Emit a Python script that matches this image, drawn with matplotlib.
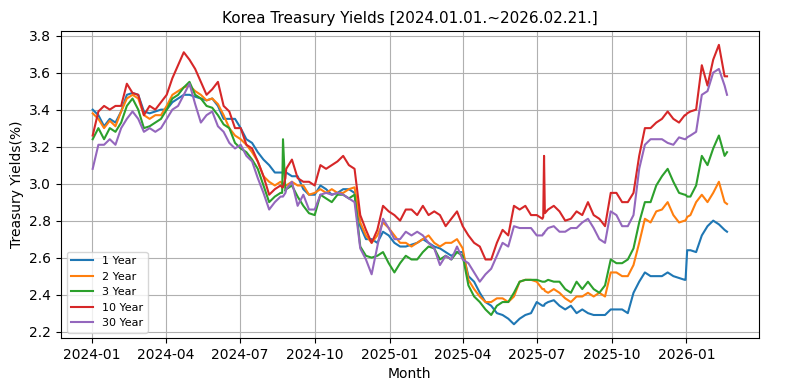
import matplotlib
matplotlib.use("Agg")
import matplotlib.pyplot as plt
import matplotlib.dates as mdates
import pandas as pd
import numpy as np

# Weekly observations (every 7 days starting 2024-01-02)
week_start = "2024-01-02"
n_weeks = 112

y1 = [3.40, 3.37, 3.31, 3.35, 3.33, 3.39, 3.48, 3.49, 3.48, 3.39, 3.38, 3.39, 3.40, 3.40, 3.44, 3.46,
      3.48, 3.48, 3.47, 3.46, 3.45, 3.46, 3.42, 3.35, 3.35, 3.35, 3.30, 3.24, 3.22, 3.17, 3.13, 3.10,
      3.06, 3.06, 3.06, 3.04, 3.04, 2.97, 2.94, 2.94, 2.99, 2.97, 2.94, 2.95, 2.97, 2.97, 2.95, 2.77,
      2.70, 2.70, 2.68, 2.74, 2.72, 2.68, 2.66, 2.66, 2.67, 2.68, 2.70, 2.68, 2.66, 2.65, 2.63, 2.61,
      2.63, 2.63, 2.50, 2.47, 2.41, 2.36, 2.34, 2.30, 2.29, 2.27, 2.24, 2.27, 2.29, 2.30, 2.36, 2.34,
      2.36, 2.37, 2.34, 2.32, 2.34, 2.30, 2.32, 2.30, 2.29, 2.29, 2.29, 2.32, 2.32, 2.32, 2.30, 2.41,
      2.47, 2.52, 2.50, 2.50, 2.50, 2.52, 2.50, 2.49, 2.48, 2.64, 2.63, 2.72, 2.77, 2.80, 2.78, 2.75]
y2 = [3.38, 3.35, 3.30, 3.34, 3.31, 3.39, 3.46, 3.48, 3.46, 3.37, 3.35, 3.37, 3.37, 3.42, 3.48, 3.50,
      3.52, 3.53, 3.50, 3.48, 3.45, 3.46, 3.43, 3.37, 3.30, 3.26, 3.24, 3.21, 3.17, 3.12, 3.04, 3.01,
      2.99, 3.01, 2.99, 3.01, 2.99, 2.99, 2.94, 2.95, 2.97, 2.95, 2.97, 2.95, 2.95, 2.97, 2.98, 2.79,
      2.72, 2.68, 2.72, 2.79, 2.76, 2.72, 2.68, 2.68, 2.66, 2.68, 2.70, 2.72, 2.68, 2.66, 2.68, 2.68,
      2.70, 2.65, 2.48, 2.43, 2.39, 2.36, 2.36, 2.38, 2.38, 2.36, 2.39, 2.47, 2.48, 2.48, 2.47, 2.43,
      2.41, 2.43, 2.41, 2.38, 2.36, 2.39, 2.39, 2.41, 2.39, 2.41, 2.39, 2.52, 2.52, 2.50, 2.50, 2.56,
      2.68, 2.81, 2.79, 2.85, 2.86, 2.90, 2.83, 2.79, 2.80, 2.83, 2.90, 2.94, 2.90, 2.95, 3.01, 2.90]
y3 = [3.24, 3.30, 3.24, 3.30, 3.28, 3.33, 3.42, 3.46, 3.40, 3.30, 3.31, 3.33, 3.35, 3.40, 3.46, 3.48,
      3.52, 3.55, 3.48, 3.46, 3.42, 3.41, 3.37, 3.32, 3.30, 3.22, 3.19, 3.17, 3.13, 3.08, 2.99, 2.90,
      2.93, 2.95, 2.97, 2.99, 2.93, 2.88, 2.84, 2.83, 2.94, 2.92, 2.90, 2.94, 2.94, 2.92, 2.94, 2.66,
      2.61, 2.60, 2.61, 2.63, 2.57, 2.52, 2.57, 2.61, 2.59, 2.59, 2.63, 2.66, 2.65, 2.59, 2.61, 2.59,
      2.63, 2.61, 2.45, 2.39, 2.36, 2.32, 2.29, 2.34, 2.36, 2.36, 2.41, 2.47, 2.48, 2.48, 2.48, 2.47,
      2.48, 2.47, 2.47, 2.43, 2.41, 2.47, 2.43, 2.47, 2.43, 2.41, 2.45, 2.59, 2.57, 2.57, 2.59, 2.65,
      2.79, 2.90, 2.90, 2.99, 3.04, 3.08, 3.01, 2.95, 2.94, 2.93, 2.99, 3.15, 3.10, 3.19, 3.26, 3.15]
y10 = [3.26, 3.39, 3.42, 3.40, 3.42, 3.42, 3.54, 3.49, 3.48, 3.37, 3.42, 3.40, 3.44, 3.48, 3.57, 3.64,
       3.71, 3.67, 3.62, 3.55, 3.48, 3.51, 3.55, 3.42, 3.39, 3.30, 3.30, 3.21, 3.19, 3.12, 3.04, 2.94,
       2.97, 2.99, 3.08, 3.13, 3.03, 3.01, 3.01, 2.99, 3.10, 3.08, 3.10, 3.12, 3.15, 3.10, 3.08, 2.83,
       2.75, 2.68, 2.75, 2.88, 2.85, 2.83, 2.80, 2.86, 2.86, 2.83, 2.88, 2.83, 2.85, 2.83, 2.77, 2.81,
       2.85, 2.77, 2.72, 2.68, 2.66, 2.59, 2.59, 2.68, 2.75, 2.72, 2.88, 2.86, 2.88, 2.83, 2.83, 2.81,
       2.86, 2.88, 2.85, 2.80, 2.81, 2.85, 2.83, 2.90, 2.83, 2.81, 2.77, 2.95, 2.95, 2.90, 2.90, 2.95,
       3.15, 3.30, 3.30, 3.33, 3.35, 3.39, 3.35, 3.33, 3.37, 3.39, 3.40, 3.64, 3.53, 3.67, 3.75, 3.58]
y30 = [3.08, 3.21, 3.21, 3.24, 3.21, 3.30, 3.35, 3.39, 3.35, 3.28, 3.30, 3.28, 3.30, 3.35, 3.40, 3.42,
       3.48, 3.54, 3.43, 3.33, 3.37, 3.39, 3.31, 3.28, 3.22, 3.19, 3.21, 3.15, 3.12, 3.03, 2.95, 2.86,
       2.90, 2.93, 2.97, 3.01, 2.88, 2.94, 2.86, 2.86, 2.94, 2.95, 2.94, 2.95, 2.94, 2.92, 2.90, 2.65,
       2.59, 2.51, 2.66, 2.81, 2.76, 2.70, 2.70, 2.74, 2.72, 2.74, 2.72, 2.68, 2.65, 2.56, 2.61, 2.59,
       2.66, 2.59, 2.57, 2.52, 2.47, 2.51, 2.54, 2.61, 2.68, 2.66, 2.77, 2.76, 2.76, 2.76, 2.72, 2.72,
       2.76, 2.77, 2.74, 2.74, 2.76, 2.76, 2.79, 2.81, 2.76, 2.70, 2.68, 2.85, 2.83, 2.77, 2.77, 2.83,
       3.08, 3.21, 3.24, 3.24, 3.24, 3.22, 3.21, 3.25, 3.24, 3.26, 3.28, 3.48, 3.50, 3.60, 3.62, 3.53]

# Extra (non-weekly) observations: spikes, jumps and the last day
extra_dates = ["2024-08-22", "2024-08-23", "2024-08-26",
               "2025-07-09", "2025-07-10", "2025-07-11",
               "2025-12-31", "2026-01-02", "2026-02-20"]
e1 = [3.06, 3.06, 3.06, 2.34, 2.34, 2.35, 2.48, 2.64, 2.74]
e2 = [3.00, 3.00, 2.99, 2.43, 2.43, 2.42, 2.80, 2.82, 2.89]
e3 = [2.95, 3.24, 2.96, 2.47, 2.47, 2.47, 2.94, 2.93, 3.17]
e10 = [2.98, 2.98, 3.03, 2.82, 3.15, 2.84, 3.37, 3.38, 3.58]
e30 = [2.93, 2.93, 2.95, 2.73, 2.73, 2.74, 3.24, 3.25, 3.48]

labels = ["1 Year", "2 Year", "3 Year", "10 Year", "30 Year"]

weekly = pd.DataFrame({labels[0]: y1, labels[1]: y2, labels[2]: y3, labels[3]: y10, labels[4]: y30},
                      index=pd.date_range(week_start, periods=n_weeks, freq="7D"))
extra = pd.DataFrame({labels[0]: e1, labels[1]: e2, labels[2]: e3, labels[3]: e10, labels[4]: e30},
                     index=pd.to_datetime(extra_dates))
df = pd.concat([weekly, extra]).sort_index()

fig = plt.figure(figsize=(7.97, 3.91), dpi=100)
ax = fig.add_subplot(111)
fig.subplots_adjust(left=0.0765, right=0.952, top=0.921, bottom=0.135)

for lab in labels:
    ax.plot(df.index, df[lab], label=lab, lw=1.5)

ax.set_title("Korea Treasury Yields [2024.01.01.~2026.02.21.]", fontsize=11)
ax.set_xlabel("Month", fontsize=10)
ax.set_ylabel("Treasury Yields(%)", fontsize=10)
ax.xaxis.set_major_locator(mdates.MonthLocator(bymonth=[1, 4, 7, 10]))
ax.xaxis.set_major_formatter(mdates.DateFormatter("%Y-%m"))
ax.grid(True)
ax.legend(loc="lower left", fontsize=8)

fig.savefig("out.png", dpi=100)
